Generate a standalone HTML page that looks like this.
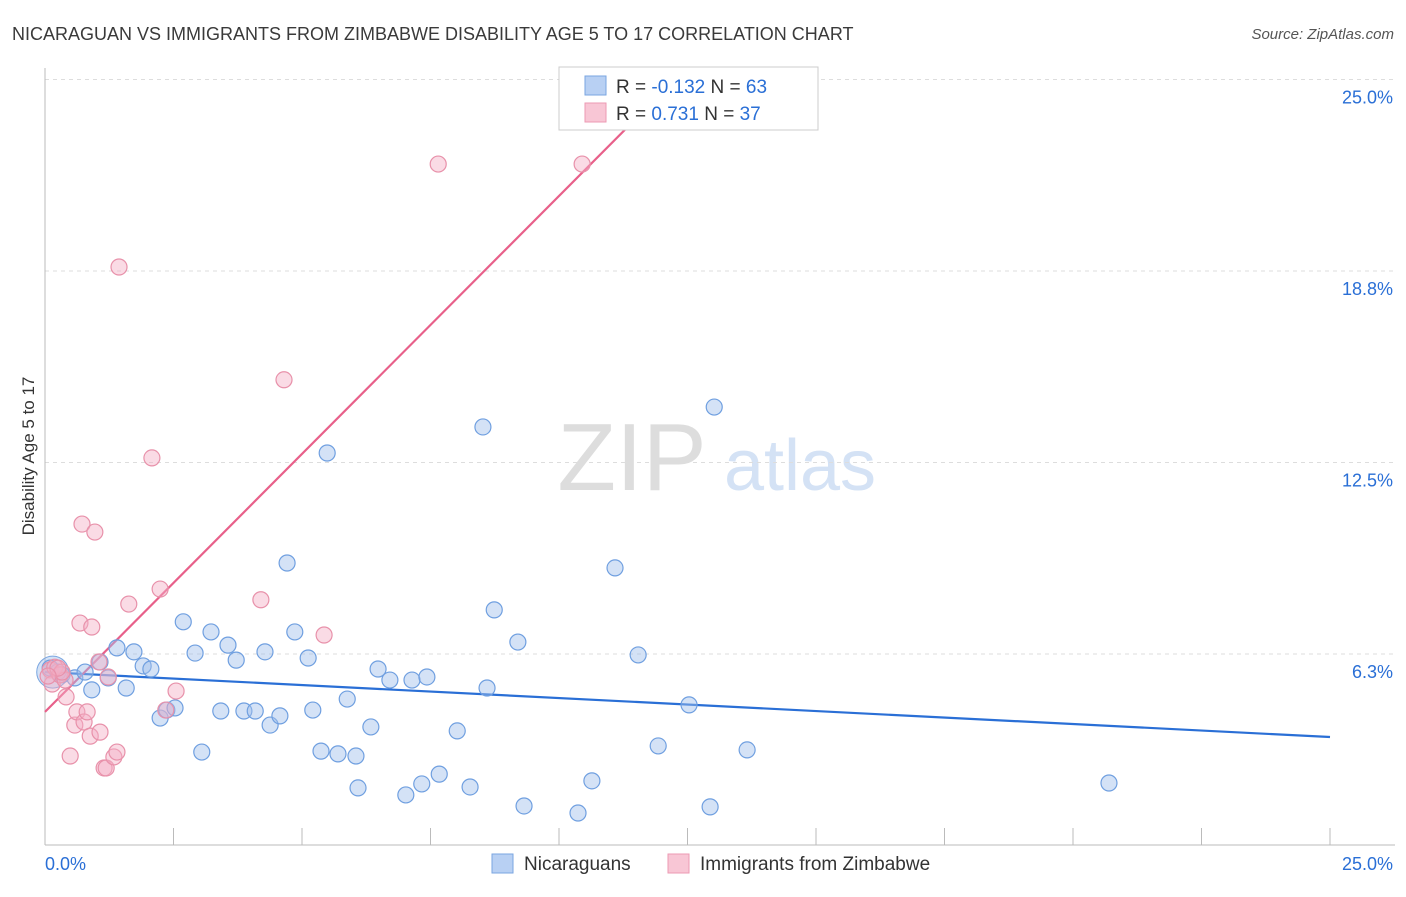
<!DOCTYPE html>
<html><head><meta charset="utf-8"><style>
body{margin:0;background:#fff;font-family:"Liberation Sans",sans-serif;}
svg text{font-family:"Liberation Sans",sans-serif;}
</style></head><body>
<svg id="chart" width="1406" height="892" xmlns="http://www.w3.org/2000/svg">
<text x="12" y="40" font-size="18" fill="#3a3a3a">NICARAGUAN VS IMMIGRANTS FROM ZIMBABWE DISABILITY AGE 5 TO 17 CORRELATION CHART</text>
<text x="1394" y="39" font-size="15" fill="#555" text-anchor="end" font-style="italic">Source: ZipAtlas.com</text>
<g>
<text x="632" y="490" font-size="96" fill="#ddd" text-anchor="middle" font-family="Liberation Serif">ZIP</text>
<text x="800" y="490" font-size="72" fill="#d4e2f5" text-anchor="middle">atlas</text>
</g>
<g id="grid"></g>
<g id="axes"></g>
<g id="lines"></g>
<g id="pts"></g>
<text transform="translate(34,456) rotate(-90)" font-size="17" fill="#333" text-anchor="middle">Disability Age 5 to 17</text>
<g>
<rect x="559" y="67" width="259" height="63" fill="#fff" stroke="#ccc"/>
<rect x="585" y="76" width="21" height="19" fill="#b8d0f3" stroke="#7aa6e0"/>
<rect x="585" y="103" width="21" height="19" fill="#f8c6d5" stroke="#ec9ab3"/>
<text x="616" y="93" font-size="19" fill="#333">R = <tspan fill="#2a6fd6">-0.132</tspan>   N = <tspan fill="#2a6fd6">63</tspan></text>
<text x="616" y="120" font-size="19" fill="#333">R =  <tspan fill="#2a6fd6"> 0.731</tspan>   N = <tspan fill="#2a6fd6">37</tspan></text>
</g>
<g>
<rect x="492" y="854" width="21" height="19" fill="#b8d0f3" stroke="#7aa6e0"/>
<text x="524" y="870" font-size="19" fill="#333">Nicaraguans</text>
<rect x="668" y="854" width="21" height="19" fill="#f8c6d5" stroke="#ec9ab3"/>
<text x="700" y="870" font-size="19" fill="#333">Immigrants from Zimbabwe</text>
</g>
</svg>
<script>
const blueX=[0.10,0.25,0.33,0.58,0.78,0.91,1.07,1.23,1.40,1.58,1.73,1.91,2.06,2.24,2.37,2.53,2.69,2.92,3.05,3.23,3.42,3.56,3.72,3.87,4.09,4.28,4.38,4.57,4.71,4.86,5.12,5.21,5.37,5.49,5.70,5.88,6.05,6.09,6.34,6.48,6.71,7.02,7.14,7.33,7.43,7.67,8.02,8.27,8.52,8.60,8.74,9.20,9.32,10.37,10.64,11.09,11.54,11.93,12.53,12.94,13.02,13.66,20.70];
const blueY=[5.79,5.66,5.57,5.47,5.66,5.08,5.99,5.47,6.45,5.14,6.32,5.86,5.76,4.16,4.42,4.49,7.30,6.28,3.05,6.97,4.39,6.54,6.05,4.39,4.39,6.32,3.93,4.23,9.22,6.97,6.12,4.42,3.08,12.81,2.99,4.78,2.92,1.88,3.87,5.76,5.40,1.65,5.40,2.01,5.50,2.33,3.74,1.91,13.66,5.14,7.69,6.64,1.29,1.06,2.11,9.06,6.22,3.25,4.59,1.26,14.31,3.12,2.04];
const pinkX=[0.10,0.14,0.19,0.29,0.39,0.41,0.49,0.58,0.62,0.68,0.72,0.76,0.82,0.88,0.91,0.97,1.05,1.07,1.15,1.19,1.23,1.34,1.40,1.44,1.63,2.08,2.24,2.35,2.55,4.20,4.65,5.43,7.65,10.45,0.33,0.25,0.06];
const pinkY=[5.73,5.27,5.82,5.57,5.40,4.85,2.92,3.93,4.36,7.26,10.49,4.03,4.36,3.57,7.13,10.23,5.99,3.70,2.53,2.53,5.50,2.89,3.05,18.88,7.88,12.65,8.37,4.42,5.04,8.02,15.20,6.87,22.24,22.24,5.66,5.79,5.53];
const blueFit=[5.66,3.54]; // y at x=0 and x=25
const pinkFit=[4.36,11.96,24.5]; // y at 0, end x, end y
const yTicks=[6.3,12.5,18.8,25.0];
const yTickLabels=["6.3%","12.5%","18.8%","25.0%"];
const xTickVals=[0,2.5,5,7.5,10,12.5,15,17.5,20,22.5,25];
const NS="http://www.w3.org/2000/svg";
const X=v=>45+v/25*1285, Y=v=>845.5-v/25*766;
function mk(tag,attrs,parent){const e=document.createElementNS(NS,tag);for(const k in attrs)e.setAttribute(k,attrs[k]);document.getElementById(parent).appendChild(e);return e;}
yTicks.forEach((t,i)=>{
 const gv=[6.25,12.5,18.75,25][i];
 const l=mk('line',{x1:45,x2:1395,y1:Y(gv),y2:Y(gv),stroke:'#ddd','stroke-dasharray':'4,4'},'grid');
 
 
 const tx=mk('text',{x:1393,y:Y(gv)+24,'font-size':18,fill:'#2a6fd6','text-anchor':'end'},'grid');
 tx.textContent=yTickLabels[i];
 
 
});
const ya=mk('line',{x1:45,x2:45,y1:68,y2:845,stroke:'#bbb'},'axes');


const xa=mk('line',{x1:45,x2:1395,y1:845,y2:845,stroke:'#bbb'},'axes');


xTickVals.forEach(v=>{
 const t=mk('line',{x1:X(v),x2:X(v),y1:828,y2:845,stroke:'#bbb'},'axes');
 
 
});
const x0=mk('text',{x:45,y:870,'font-size':18,fill:'#2a6fd6'},'axes');x0.textContent='0.0%';


const x1=mk('text',{x:1393,y:870,'font-size':18,fill:'#2a6fd6','text-anchor':'end'},'axes');x1.textContent='25.0%';


const big=mk('circle',{cx:X(0.15),cy:Y(5.66),r:16,fill:'rgba(160,190,235,0.45)',stroke:'#7aa6e0'},'pts');


blueX.forEach((v,i)=>{
 const c=mk('circle',{cx:X(v),cy:Y(blueY[i]),r:8,fill:'rgba(160,190,235,0.45)',stroke:'#6f9fe0','stroke-width':1.2},'pts');
 
 
});
pinkX.forEach((v,i)=>{
 const c=mk('circle',{cx:X(v),cy:Y(pinkY[i]),r:8,fill:'rgba(245,175,198,0.45)',stroke:'#e891aa','stroke-width':1.2},'pts');
 
 
});
const bl=mk('line',{x1:X(0),y1:Y(blueFit[0]),x2:X(25),y2:Y(blueFit[1]),stroke:'#2a6fd6','stroke-width':2.2},'lines');


const pl=mk('line',{x1:X(0),y1:Y(pinkFit[0]),x2:X(pinkFit[1]),y2:Y(pinkFit[2]),stroke:'#e8608a','stroke-width':2.2},'lines');


</script>
</body></html>
